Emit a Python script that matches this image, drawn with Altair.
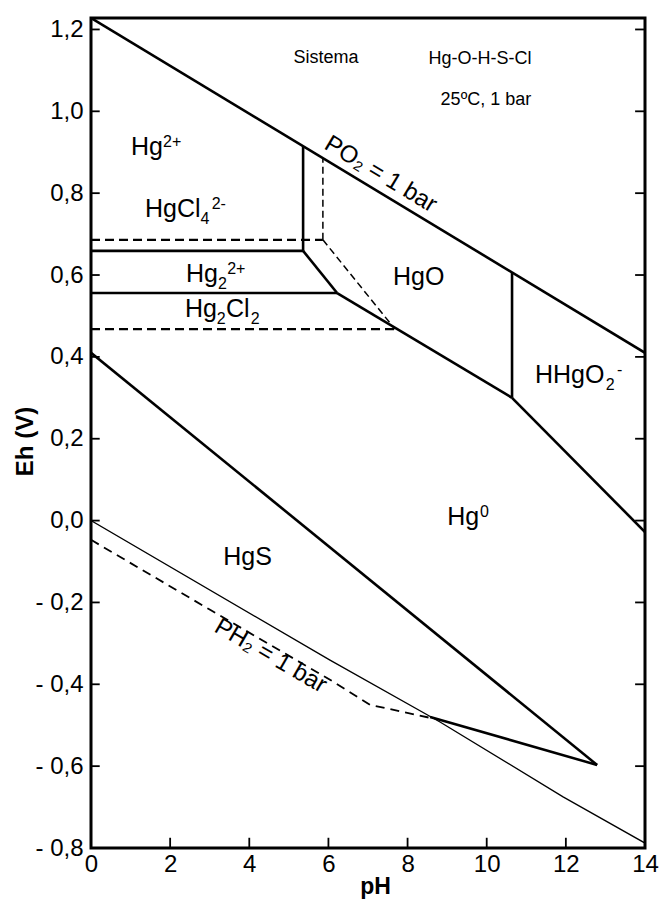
import altair as alt
import pandas as pd

# ---------------- data ----------------
X_TICKS = [0, 2, 4, 6, 8, 10, 12, 14]
Y_TICKS = [-0.8, -0.6, -0.4, -0.2, 0.0, 0.2, 0.4, 0.6, 0.8, 1.0, 1.2]
PH_RANGE = [0, 14]
EH_RANGE = [-0.8, 1.228]

# thick stability-field boundaries
O2_PH = [0, 14]
O2_EH = [1.228, 0.41]
HG2_HG22_PH = [0, 5.36]
HG2_HG22_EH = [0.659, 0.659]
HG2_HGO_PH = [5.36, 5.36]
HG2_HGO_EH = [0.659, 0.915]
HG22_HGO_PH = [5.36, 6.22]
HG22_HGO_EH = [0.659, 0.556]
HG22_HG0_PH = [0, 6.22]
HG22_HG0_EH = [0.556, 0.556]
HGO_HG0_PH = [6.22, 10.64]
HGO_HG0_EH = [0.556, 0.300]
HGO_HHGO2_PH = [10.64, 10.64]
HGO_HHGO2_EH = [0.300, 0.607]
HHGO2_HG0_PH = [10.64, 14]
HHGO2_HG0_EH = [0.300, -0.028]
HGS_HG0_PH = [0, 12.79]
HGS_HG0_EH = [0.41, -0.597]
HGS_LOW_PH = [8.57, 12.79]
HGS_LOW_EH = [-0.480, -0.597]
# thin water-reduction line
H2_PH = [0, 6.04, 8.82, 11.93, 14]
H2_EH = [0.0, -0.341, -0.492, -0.675, -0.788]
# dashed chloride boundaries
CL_UP_PH = [0, 5.86]
CL_UP_EH = [0.686, 0.686]
CL_LOW_PH = [0, 7.68]
CL_LOW_EH = [0.468, 0.468]
CL_VERT_PH = [5.86, 5.86]
CL_VERT_EH = [0.686, 0.886]
CL_DIAG_PH = [5.86, 7.68]
CL_DIAG_EH = [0.686, 0.468]
# dashed lower boundary
S_PH = [0, 3.01, 6.04, 7.05, 8.57]
S_EH = [-0.047, -0.218, -0.389, -0.45, -0.482]

# field labels, split into base text, subscripts and superscripts
BASE_TEXT = ["Hg", "HgCl", "Hg", "Hg", "Cl", "HgO", "HHgO", "Hg", "HgS"]
BASE_PH = [1.01, 1.365, 2.40, 2.375, 3.41, 7.63, 11.22, 9.0, 3.34]
BASE_EH = [0.893, 0.742, 0.583, 0.497, 0.497, 0.576, 0.336, -0.011, -0.108]
SUB_TEXT = ["4", "2", "2", "2", "2"]
SUB_PH = [2.77, 3.21, 3.18, 4.04, 13.01]
SUB_EH = [0.742, 0.583, 0.497, 0.497, 0.336]
SUP_TEXT = ["2+", "2-", "2+", "-", "0"]
SUP_PH = [1.82, 3.05, 3.44, 13.29, 9.83]
SUP_EH = [0.893, 0.742, 0.583, 0.336, -0.011]
NOTE_TEXT = ["Sistema", "Hg-O-H-S-Cl", "25ºC, 1 bar"]
NOTE_PH = [5.94, 9.83, 9.98]
NOTE_EH = [1.118, 1.116, 1.015]
LINE_TEXT = ["PO₂ = 1 bar", "PH₂ = 1 bar"]
LINE_PH = [7.23, 4.45]
LINE_EH = [0.831, -0.346]
LINE_ANGLE = [31, 30]

# ---------------- styling ----------------
FONT = "Liberation Sans, Arial, Helvetica, DejaVu Sans, sans-serif"

segments = [
    ("o2", "thick", O2_PH, O2_EH),
    ("a", "thick", HG2_HG22_PH, HG2_HG22_EH),
    ("b", "thick", HG2_HGO_PH, HG2_HGO_EH),
    ("c", "thick", HG22_HGO_PH, HG22_HGO_EH),
    ("d", "thick", HG22_HG0_PH, HG22_HG0_EH),
    ("e", "thick", HGO_HG0_PH, HGO_HG0_EH),
    ("f", "thick", HGO_HHGO2_PH, HGO_HHGO2_EH),
    ("g", "thick", HHGO2_HG0_PH, HHGO2_HG0_EH),
    ("h", "thick", HGS_HG0_PH, HGS_HG0_EH),
    ("i", "thick", HGS_LOW_PH, HGS_LOW_EH),
    ("h2", "thin", H2_PH, H2_EH),
    ("cl1", "dash", CL_UP_PH, CL_UP_EH),
    ("cl2", "dash", CL_LOW_PH, CL_LOW_EH),
    ("cl3", "dashthin", CL_VERT_PH, CL_VERT_EH),
    ("cl4", "dashthin", CL_DIAG_PH, CL_DIAG_EH),
    ("s", "dashlow", S_PH, S_EH),
]
rows = []
for seg, kind, phs, ehs in segments:
    for k, (p, e) in enumerate(zip(phs, ehs)):
        rows.append({"seg": seg, "kind": kind, "i": k, "pH": p, "Eh": e})
lines_df = pd.DataFrame(rows)

base_df = pd.DataFrame({"text": BASE_TEXT, "pH": BASE_PH, "Eh": BASE_EH})
sub_df = pd.DataFrame({"text": SUB_TEXT, "pH": SUB_PH, "Eh": SUB_EH})
sup_df = pd.DataFrame({"text": SUP_TEXT, "pH": SUP_PH, "Eh": SUP_EH})
note_df = pd.DataFrame({"text": NOTE_TEXT, "pH": NOTE_PH, "Eh": NOTE_EH})
linelab_df = pd.DataFrame({"text": LINE_TEXT, "pH": LINE_PH, "Eh": LINE_EH, "angle": LINE_ANGLE})

# inward tick marks (positions taken from the tick lists)
tick_rows = []
for v in Y_TICKS:
    tick_rows.append({"pH": 0.0, "pH2": 0.22, "Eh": v, "Eh2": v})
    tick_rows.append({"pH": 13.75, "pH2": 14.0, "Eh": v, "Eh2": v})
for v in X_TICKS[1:-1]:
    tick_rows.append({"pH": v, "pH2": v, "Eh": -0.8, "Eh2": -0.775})
ticks_df = pd.DataFrame(tick_rows)

xscale = alt.Scale(domain=PH_RANGE, nice=False, zero=False)
yscale = alt.Scale(domain=EH_RANGE, nice=False, zero=False)

xaxis = alt.Axis(values=X_TICKS, title="pH", grid=False, ticks=False, domain=False,
                 labelFont=FONT, labelFontSize=24, labelColor="black", labelPadding=4,
                 labelFlush=False, labelOverlap=False,
                 titleFont=FONT, titleFontSize=23, titleFontWeight="bold", titleColor="black",
                 titleX=284, titleY=45, titleBaseline="alphabetic")
yaxis = alt.Axis(values=Y_TICKS, title="Eh (V)", grid=False, ticks=False, domain=False,
                 labelFont=FONT, labelFontSize=24, labelColor="black", labelPadding=8,
                 labelFlush=False, labelOverlap=False,
                 labelExpr="datum.value < -0.01 ? '- ' + replace(format(-datum.value, '.1f'), '.', ',') : replace(format(abs(datum.value), '.1f'), '.', ',')",
                 titleFont=FONT, titleFontSize=24, titleFontWeight="bold", titleColor="black",
                 titleX=-59, titleY=423, titleBaseline="alphabetic")

X = alt.X("pH:Q", scale=xscale, axis=xaxis)
Y = alt.Y("Eh:Q", scale=yscale, axis=yaxis)

base = alt.Chart(lines_df)


def line_layer(kind, width, dash=None):
    mk = dict(color="black", strokeWidth=width, clip=True, strokeCap="butt", strokeJoin="miter")
    if dash:
        mk["strokeDash"] = dash
    return base.transform_filter(alt.datum.kind == kind).mark_line(**mk).encode(
        x=X, y=Y, detail="seg:N", order="i:Q")


thick = line_layer("thick", 2.6)
thin = line_layer("thin", 1.3)
dash = line_layer("dash", 2.2, [9, 5])
dashthin = line_layer("dashthin", 1.5, [7, 4])
dashlow = line_layer("dashlow", 1.8, [9, 6])

ticks = alt.Chart(ticks_df).mark_rule(color="black", strokeWidth=1.8).encode(
    x=X, x2="pH2:Q", y=Y, y2="Eh2:Q")


def text_layer(df, size, align="left", dy=0, **extra):
    return alt.Chart(df).mark_text(font=FONT, color="black", align=align, baseline="alphabetic",
                                   fontSize=size, dy=dy, **extra).encode(x=X, y=Y, text="text:N")


base_lab = text_layer(base_df, 25)
sub_lab = text_layer(sub_df, 16, dy=7)
sup_lab = text_layer(sup_df, 16, dy=-8)
note_lab = text_layer(note_df, 18, align="center")
line_lab = alt.Chart(linelab_df).mark_text(font=FONT, color="black", align="center",
                                           baseline="alphabetic", fontSize=24).encode(
    x=X, y=Y, text="text:N", angle=alt.Angle("angle:Q", scale=None, legend=None))

chart = alt.layer(thick, thin, dash, dashthin, dashlow, ticks,
                  base_lab, sub_lab, sup_lab, note_lab, line_lab).properties(
    width=554, height=830,
    padding={"left": 91, "top": 18, "right": 15, "bottom": 53},
    autosize=alt.AutoSizeParams(type="none"),
    background="white",
).configure_view(stroke="black", strokeWidth=3)

chart.save("out.html", embed_options={"renderer": "svg", "actions": False})
